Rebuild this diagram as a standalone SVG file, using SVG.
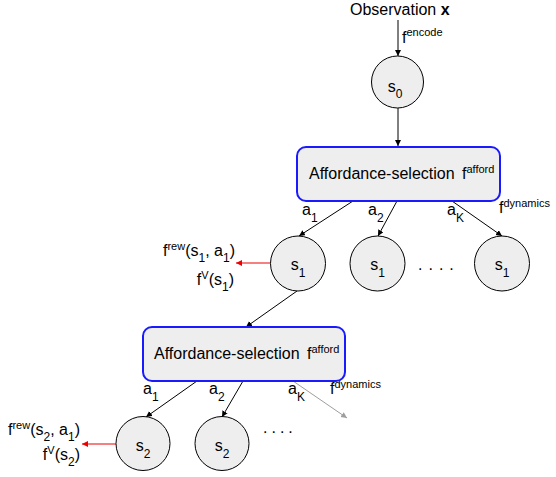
<svg xmlns="http://www.w3.org/2000/svg" width="556" height="477" viewBox="0 0 556 477">
<defs>
<style>
text{font-family:"Liberation Sans",Arial,sans-serif;fill:#000}
.m{font-size:16px}
.sb{font-size:12px}
.sp{font-size:11px}
.ctr{text-anchor:middle}
.node{fill:#eeeeee;stroke:#000;stroke-width:1}
.box{fill:#eeeeee;stroke:#1a1aff;stroke-width:2}
.c{stroke:#000;stroke-width:1;fill:none}
.r{stroke:#ee0000;stroke-width:1.2;fill:none}
.g{stroke:#9e9e9e;stroke-width:1;fill:none}
</style>
<marker id="ak" markerWidth="8" markerHeight="8" refX="6" refY="3" orient="auto" markerUnits="userSpaceOnUse"><path d="M0,0 L6,3 L0,6 z" fill="#000"/></marker>
<marker id="ar" markerWidth="8" markerHeight="8" refX="6" refY="3" orient="auto" markerUnits="userSpaceOnUse"><path d="M0,0 L6,3 L0,6 z" fill="#ee0000"/></marker>
<marker id="ag" markerWidth="8" markerHeight="8" refX="6" refY="3" orient="auto" markerUnits="userSpaceOnUse"><path d="M0,0 L6,3 L0,6 z" fill="#9e9e9e"/></marker>
</defs>
<rect width="556" height="477" fill="#fff"/>

<g id="connectors">
<line class="c" x1="398" y1="20" x2="398" y2="56" marker-end="url(#ak)"/>
<line class="c" x1="398" y1="108" x2="398" y2="146" marker-end="url(#ak)"/>
<line class="c" x1="353" y1="201" x2="299" y2="236" marker-end="url(#ak)"/>
<line class="c" x1="397" y1="201" x2="378" y2="236" marker-end="url(#ak)"/>
<line class="c" x1="452" y1="201" x2="502" y2="236" marker-end="url(#ak)"/>
<line class="r" x1="270" y1="263" x2="236" y2="263" marker-end="url(#ar)"/>
<line class="c" x1="297" y1="291" x2="246" y2="327" marker-end="url(#ak)"/>
<line class="c" x1="197" y1="381" x2="146" y2="417" marker-end="url(#ak)"/>
<line class="c" x1="243" y1="381" x2="222" y2="417" marker-end="url(#ak)"/>
<line class="g" x1="293" y1="381" x2="347" y2="418" marker-end="url(#ag)"/>
<line class="r" x1="116" y1="444" x2="82" y2="444" marker-end="url(#ar)"/>
</g>

<g id="labels">
<text class="m" x="350" y="15">Observation <tspan font-weight="bold">x</tspan></text>
<text class="m" x="402" y="43">f<tspan class="sp" dy="-7">encode</tspan></text>
<text class="m" x="302" y="215">a<tspan class="sb" dy="7">1</tspan></text>
<text class="m" x="368" y="215">a<tspan class="sb" dy="7">2</tspan></text>
<text class="m" x="447" y="215">a<tspan class="sb" dy="7">K</tspan></text>
<text class="m" x="499" y="213">f<tspan class="sp" dy="-6">dynamics</tspan></text>
<text class="m" x="235" y="256" text-anchor="end">f<tspan class="sp" dy="-6">rew</tspan><tspan dy="6">(s</tspan><tspan class="sb" dy="6">1</tspan><tspan dy="-6">, a</tspan><tspan class="sb" dy="6">1</tspan><tspan dy="-6">)</tspan></text>
<text class="m" x="234" y="285" text-anchor="end">f<tspan class="sp" dy="-6">V</tspan><tspan dy="6">(s</tspan><tspan class="sb" dy="6">1</tspan><tspan dy="-6">)</tspan></text>
<text class="m" x="418" y="270" letter-spacing="6">....</text>
<text class="m" x="143" y="394">a<tspan class="sb" dy="7">1</tspan></text>
<text class="m" x="209" y="394">a<tspan class="sb" dy="7">2</tspan></text>
<text class="m" x="288" y="394">a<tspan class="sb" dy="7">K</tspan></text>
<text class="m" x="330" y="394">f<tspan class="sp" dy="-6">dynamics</tspan></text>
<text class="m" x="80" y="435" text-anchor="end">f<tspan class="sp" dy="-6">rew</tspan><tspan dy="6">(s</tspan><tspan class="sb" dy="6">2</tspan><tspan dy="-6">, a</tspan><tspan class="sb" dy="6">1</tspan><tspan dy="-6">)</tspan></text>
<text class="m" x="80" y="460" text-anchor="end">f<tspan class="sp" dy="-6">V</tspan><tspan dy="6">(s</tspan><tspan class="sb" dy="6">2</tspan><tspan dy="-6">)</tspan></text>
<text class="m" x="263" y="433" letter-spacing="4">....</text>
</g>

<g id="s0">
<circle class="node" cx="397.5" cy="82" r="26"/>
<text class="m ctr" x="395" y="92">s<tspan class="sb" dy="6">0</tspan></text>
</g>

<g id="afford1">
<rect class="box" x="297" y="147" width="203" height="54" rx="9"/>
<text class="m" x="309" y="179">Affordance-selection</text>
<text class="m" x="462" y="179">f<tspan class="sp" dy="-6">afford</tspan></text>
</g>

<g id="s1a">
<circle class="node" cx="298" cy="263.5" r="27.5"/>
<text class="m ctr" x="298" y="270">s<tspan class="sb" dy="7">1</tspan></text>
</g>
<g id="s1b">
<circle class="node" cx="377.5" cy="263.5" r="27.5"/>
<text class="m ctr" x="377.5" y="270">s<tspan class="sb" dy="7">1</tspan></text>
</g>
<g id="s1k">
<circle class="node" cx="502" cy="263.5" r="27.5"/>
<text class="m ctr" x="502" y="270">s<tspan class="sb" dy="7">1</tspan></text>
</g>

<g id="afford2">
<rect class="box" x="143" y="327" width="202" height="54" rx="9"/>
<text class="m" x="154" y="359">Affordance-selection</text>
<text class="m" x="307" y="359">f<tspan class="sp" dy="-6">afford</tspan></text>
</g>

<g id="s2a">
<circle class="node" cx="143" cy="443.5" r="27"/>
<text class="m ctr" x="143" y="451">s<tspan class="sb" dy="7">2</tspan></text>
</g>
<g id="s2b">
<circle class="node" cx="222" cy="443.5" r="27"/>
<text class="m ctr" x="222" y="451">s<tspan class="sb" dy="7">2</tspan></text>
</g>
</svg>
